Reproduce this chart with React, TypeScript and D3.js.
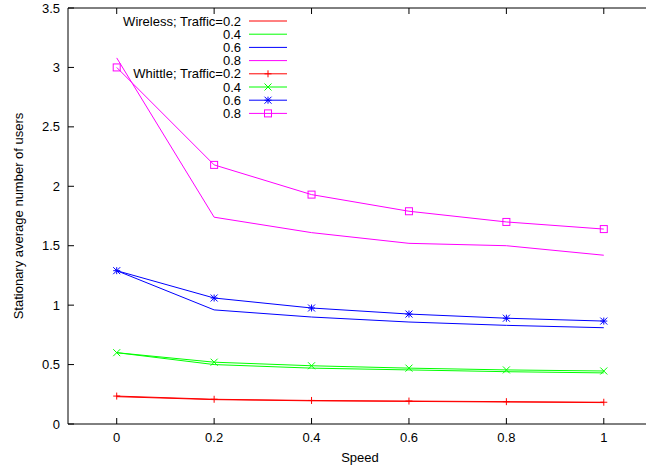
import React from "react";
import * as d3 from "d3";

const speeds = [0, 0.2, 0.4, 0.6, 0.8, 1];
const xTicks = [0, 0.2, 0.4, 0.6, 0.8, 1];
const yTicks = [0, 0.5, 1, 1.5, 2, 2.5, 3, 3.5];

const wireless02 = [0.23, 0.205, 0.195, 0.19, 0.185, 0.18];
const wireless04 = [0.6, 0.5, 0.47, 0.455, 0.44, 0.43];
const wireless06 = [1.29, 0.96, 0.9, 0.858, 0.83, 0.81];
const wireless08 = [3.08, 1.74, 1.61, 1.52, 1.5, 1.42];

const whittle02 = [0.235, 0.208, 0.198, 0.193, 0.188, 0.183];
const whittle04 = [0.6, 0.52, 0.49, 0.47, 0.455, 0.446];
const whittle06 = [1.29, 1.06, 0.976, 0.925, 0.89, 0.866];
const whittle08 = [3.0, 2.18, 1.93, 1.79, 1.7, 1.64];

const series = [
  { label: "Wireless; Traffic=0.2", values: wireless02, color: "#ff0000", marker: "none" },
  { label: "0.4", values: wireless04, color: "#00ff00", marker: "none" },
  { label: "0.6", values: wireless06, color: "#0000ff", marker: "none" },
  { label: "0.8", values: wireless08, color: "#ff00ff", marker: "none" },
  { label: "Whittle; Traffic=0.2", values: whittle02, color: "#ff0000", marker: "plus" },
  { label: "0.4", values: whittle04, color: "#00ff00", marker: "cross" },
  { label: "0.6", values: whittle06, color: "#0000ff", marker: "star" },
  { label: "0.8", values: whittle08, color: "#ff00ff", marker: "square" },
];

const W = 646;
const H = 469;
const left = 68;
const top = 8;
const bottom = 424;

const x = d3.scaleLinear().domain([-0.1, 1.1]).range([68, 652.5]);
const y = d3.scaleLinear().domain([0, 3.5]).range([bottom, top]);

function Marker({ type, cx, cy, color }: { type: string; cx: number; cy: number; color: string }) {
  const s = 3.5;
  if (type === "plus")
    return <path d={`M${cx - s},${cy}H${cx + s}M${cx},${cy - s}V${cy + s}`} stroke={color} fill="none" />;
  if (type === "cross")
    return <path d={`M${cx - s},${cy - s}L${cx + s},${cy + s}M${cx - s},${cy + s}L${cx + s},${cy - s}`} stroke={color} fill="none" />;
  if (type === "star")
    return (
      <path
        d={`M${cx - s},${cy}H${cx + s}M${cx},${cy - s}V${cy + s}M${cx - s},${cy - s}L${cx + s},${cy + s}M${cx - s},${cy + s}L${cx + s},${cy - s}`}
        stroke={color}
        fill="none"
      />
    );
  if (type === "square")
    return <rect x={cx - s} y={cy - s} width={2 * s} height={2 * s} stroke={color} fill="none" />;
  return null;
}

export default function App() {
  const line = d3
    .line<number>()
    .x((_, i) => x(speeds[i]))
    .y((d) => y(d));
  const font = "Liberation Sans, Arial, sans-serif";
  const legX = 241;
  const legY0 = 21;
  const legDy = 13.2;
  const fs = 13;
  return (
    <svg width={W} height={H} style={{ position: "absolute", left: 0, top: 0 }} fontFamily={font}>
      <rect x={0} y={0} width={W} height={H} fill="white" />
      <path d={`M${left},${top}V${bottom}H${W}`} stroke="#000" fill="none" strokeWidth={1} />
      <path d={`M${left},${top}H${W}`} stroke="#000" fill="none" strokeWidth={1} />
      {yTicks.map((t) => (
        <g key={"y" + t}>
          <line x1={left} x2={left + 6} y1={y(t)} y2={y(t)} stroke="#000" />
          <text x={60} y={y(t) + 4.5} textAnchor="end" fontSize={fs} fill="#000">
            {t}
          </text>
        </g>
      ))}
      {xTicks.map((t) => (
        <g key={"x" + t}>
          <line x1={x(t)} x2={x(t)} y1={bottom} y2={bottom - 6} stroke="#000" />
          <line x1={x(t)} x2={x(t)} y1={top} y2={top + 6} stroke="#000" />
          <text x={x(t)} y={bottom + 18} textAnchor="middle" fontSize={fs} fill="#000">
            {t}
          </text>
        </g>
      ))}
      <text x={360} y={462} textAnchor="middle" fontSize={fs}>
        Speed
      </text>
      <text transform={`translate(23,${(top + bottom) / 2}) rotate(-90)`} textAnchor="middle" fontSize={fs}>
        Stationary average number of users
      </text>
      {series.map((s, i) => (
        <g key={"s" + i}>
          <path d={line(s.values) || ""} stroke={s.color} fill="none" strokeWidth={1} />
          {s.values.map((v, j) => (
            <Marker key={j} type={s.marker} cx={x(speeds[j])} cy={y(v)} color={s.color} />
          ))}
        </g>
      ))}
      {series.map((s, i) => {
        const ly = legY0 + i * legDy;
        return (
          <g key={"l" + i}>
            <text x={legX} y={ly + 4.5} textAnchor="end" fontSize={fs} fill="#000">
              {s.label}
            </text>
            <line x1={249} x2={287} y1={ly} y2={ly} stroke={s.color} />
            <Marker type={s.marker} cx={268} cy={ly} color={s.color} />
          </g>
        );
      })}
    </svg>
  );
}
